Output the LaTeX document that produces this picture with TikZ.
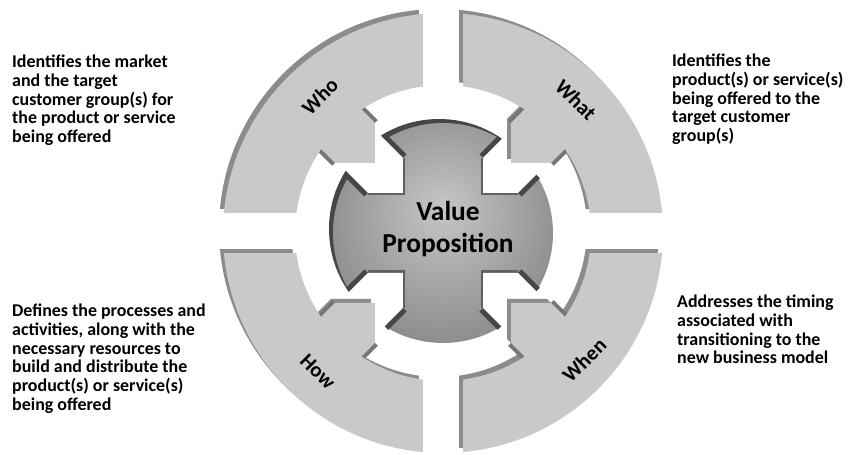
\documentclass[tikz,border=0pt]{standalone}
\usepackage{fontspec}
\setmainfont{Carlito}
\usepackage{xcolor}
\usepackage{tikz}

\definecolor{ringface}{RGB}{201,201,201}
\definecolor{ringrim}{RGB}{140,140,140}
\definecolor{ringside}{RGB}{118,118,118}
\definecolor{discin}{RGB}{198,198,198}
\definecolor{discout}{RGB}{96,96,96}
\definecolor{discrim}{RGB}{70,70,70}
\pgfdeclareradialshading{discshade}{\pgfpoint{0bp}{6bp}}{color(0bp)=(discin); color(50bp)=(discout)}

\begin{document}
\begin{tikzpicture}%
                    [x=1bp, y=1bp,
                    ringback/.style={fill=ringrim},
                    ringfill/.style={fill=ringface},
                    ringside/.style={draw=ringside, line width=8bp},
                    discback/.style={fill=discrim},
                    socketedge/.style={draw=discrim, line width=10bp},
                    armedge/.style={draw=discout, line width=5bp},
                    seglabel/.style={font=\bfseries\fontsize{21}{21}\selectfont},
                    blurb/.style={font=\bfseries\fontsize{18}{19}\selectfont, align=left, inner sep=0pt, anchor=north west}]
                \useasboundingbox (-443,-222) rectangle (412,233);
                %% The disc in the middle
                \fill[discback, shift={(-4,4)}] (0,0) circle[radius=110];
                \shade[shading=discshade] (0,0) circle[radius=110];
                %% Bevels round the four sockets
                \draw[socketedge] (122:110) -- (-40,75);
                \draw[socketedge] (148:110) -- (-75,40);
                \draw[armedge] (-40,75) -- (-40,40) -- (-75,40);
                \draw[socketedge] (58:110) -- (40,75);
                \draw[socketedge] (32:110) -- (75,40);
                \draw[armedge] (40,75) -- (40,40) -- (75,40);
                \draw[socketedge] (238:110) -- (-40,-75);
                \draw[socketedge] (212:110) -- (-75,-40);
                \draw[armedge] (-40,-75) -- (-40,-40) -- (-75,-40);
                \draw[socketedge] (302:110) -- (40,-75);
                \draw[socketedge] (328:110) -- (75,-40);
                \draw[armedge] (40,-75) -- (40,-40) -- (75,-40);
                %% Sockets cut out of the disc
                \fill[white] (-40,40) -- (-40,75) -- (-100,135) -- (-135,100) -- (-75,40) -- cycle;
                \fill[white] (40,40) -- (40,75) -- (100,135) -- (135,100) -- (75,40) -- cycle;
                \fill[white] (-40,-40) -- (-40,-75) -- (-100,-135) -- (-135,-100) -- (-75,-40) -- cycle;
                \fill[white] (40,-40) -- (40,-75) -- (100,-135) -- (135,-100) -- (75,-40) -- cycle;
                \node[font=\bfseries\fontsize{27.5}{32}\selectfont, align=center] (vp) at (5,4) {Value\\Proposition};
                %%
                %% Back of the ring
                %%
                \fill[ringback, shift={(-4,4)}] (95.22:220) arc[start angle=95.22, end angle=174.78, radius=220] -- (172.23:148) arc[start angle=172.23, end angle=97.77, radius=148] -- cycle;
                \fill[ringback, shift={(-4,4)}] (84.78:220) arc[start angle=84.78, end angle=5.22, radius=220] -- (7.77:148) arc[start angle=7.77, end angle=82.23, radius=148] -- cycle;
                \fill[ringback, shift={(-4,4)}] (185.22:220) arc[start angle=185.22, end angle=264.78, radius=220] -- (262.23:148) arc[start angle=262.23, end angle=187.77, radius=148] -- cycle;
                \fill[ringback, shift={(-4,4)}] (275.22:220) arc[start angle=275.22, end angle=354.78, radius=220] -- (352.23:148) arc[start angle=352.23, end angle=277.77, radius=148] -- cycle;
                \fill[ringback, shift={(-4,4)}] (-138,100) -- (-108,70) -- (-68,70) -- (-68,110) -- (-98,140) -- cycle;
                \fill[ringback, shift={(-4,4)}] (138,100) -- (108,70) -- (68,70) -- (68,110) -- (98,140) -- cycle;
                \fill[ringback, shift={(-4,4)}] (-138,-100) -- (-108,-70) -- (-68,-70) -- (-68,-110) -- (-98,-140) -- cycle;
                \fill[ringback, shift={(-4,4)}] (138,-100) -- (108,-70) -- (68,-70) -- (68,-110) -- (98,-140) -- cycle;
                %% Sides of the arrow shafts
                \draw[ringside] (-68,110) -- (-92,134);
                \draw[ringside] (-108,70) -- (-132,94);
                \draw[ringside] (68,110) -- (92,134);
                \draw[ringside] (108,70) -- (132,94);
                \draw[ringside] (-68,-110) -- (-92,-134);
                \draw[ringside] (-108,-70) -- (-132,-94);
                \draw[ringside] (68,-110) -- (92,-134);
                \draw[ringside] (108,-70) -- (132,-94);
                %%
                %% Faces of the ring
                %%
                \fill[ringfill] (95.22:220) arc[start angle=95.22, end angle=174.78, radius=220] -- (172.23:148) arc[start angle=172.23, end angle=97.77, radius=148] -- cycle;
                \fill[ringfill] (84.78:220) arc[start angle=84.78, end angle=5.22, radius=220] -- (7.77:148) arc[start angle=7.77, end angle=82.23, radius=148] -- cycle;
                \fill[ringfill] (185.22:220) arc[start angle=185.22, end angle=264.78, radius=220] -- (262.23:148) arc[start angle=262.23, end angle=187.77, radius=148] -- cycle;
                \fill[ringfill] (275.22:220) arc[start angle=275.22, end angle=354.78, radius=220] -- (352.23:148) arc[start angle=352.23, end angle=277.77, radius=148] -- cycle;
                \fill[ringfill] (-138,100) -- (-108,70) -- (-68,70) -- (-68,110) -- (-98,140) -- cycle;
                \fill[ringfill] (138,100) -- (108,70) -- (68,70) -- (68,110) -- (98,140) -- cycle;
                \fill[ringfill] (-138,-100) -- (-108,-70) -- (-68,-70) -- (-68,-110) -- (-98,-140) -- cycle;
                \fill[ringfill] (138,-100) -- (108,-70) -- (68,-70) -- (68,-110) -- (98,-140) -- cycle;
                %% Segment names
                \node[seglabel, rotate=45] (who) at (132:184) {Who};
                \node[seglabel, rotate=-45] (what) at (45:188) {What};
                \node[seglabel, rotate=-45] (how) at (228:187) {How};
                \node[seglabel, rotate=45] (when) at (318:190) {When};
                %% Notes beside the ring
                \node[blurb] (whotext) at (-431,178.6) {Identifies the market\\and the target\\customer group(s) for\\the product or service\\being offered};
                \node[blurb] (whattext) at (229,179.6) {Identifies the\\product(s) or service(s)\\being offered to the\\target customer\\group(s)};
                \node[blurb] (howtext) at (-431,-70.4) {Defines the processes and\\activities, along with the\\necessary resources to\\build and distribute the\\product(s) or service(s)\\being offered};
                \node[blurb] (whentext) at (234,-61.4) {Addresses the timing\\associated with\\transitioning to the\\new business model};
\end{tikzpicture}
\end{document}
